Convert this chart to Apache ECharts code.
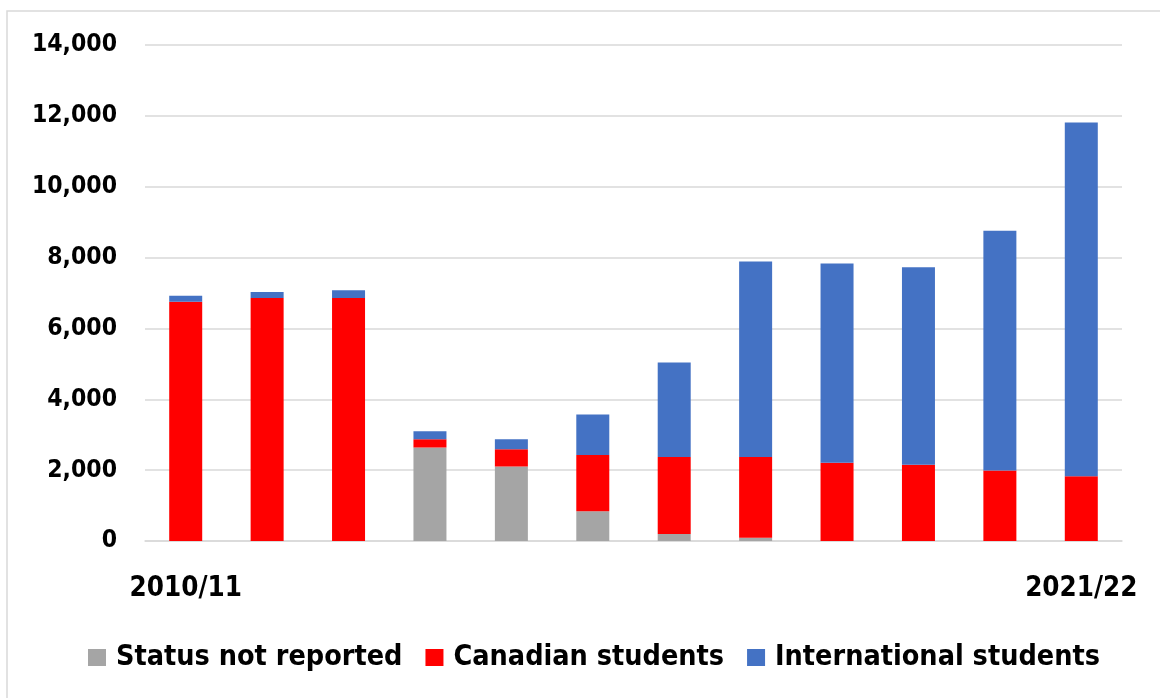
<!DOCTYPE html>
<html>
<head>
<meta charset="utf-8">
<script src="https://cdn.jsdelivr.net/npm/echarts@6/dist/echarts.min.js"></script>
<style>
html,body{margin:0;padding:0;background:#fff;}
#chart{width:1160px;height:698px;}
</style>
</head>
<body>
<div id="chart"></div>
<script>
const categories = ['2010/11','2011/12','2012/13','2013/14','2014/15','2015/16','2016/17','2017/18','2018/19','2019/20','2020/21','2021/22'];
const statusNotReported = [0, 0, 0, 2640, 2100, 840, 200, 90, 0, 0, 0, 0];
const canadianStudents = [6750, 6860, 6860, 230, 490, 1590, 2170, 2280, 2210, 2150, 1990, 1830];
const internationalStudents = [170, 170, 220, 230, 280, 1140, 2670, 5520, 5620, 5580, 6770, 9980];
const yTicks = {min: 0, max: 14000, interval: 2000};

const FONT = '"DejaVu Sans Condensed", "DejaVu Sans", sans-serif';
const chart = echarts.init(document.getElementById('chart'), null, {renderer: 'canvas'});
const barW = 33;
chart.setOption({
  animation: false,
  backgroundColor: '#ffffff',
  graphic: [{
    type: 'rect',
    shape: {x: 7, y: 11, width: 1200, height: 720},
    style: {fill: 'none', stroke: '#d9d9d9', lineWidth: 1.5},
    silent: true
  }],
  grid: {left: 145, right: 38, top: 45, bottom: 157, containLabel: false},
  legend: {
    top: 638,
    left: 83,
    itemWidth: 18,
    itemHeight: 17,
    itemGap: 23,
    icon: 'rect',
    textStyle: {fontFamily: FONT, fontWeight: 'bold', fontSize: 28.5, color: '#000', padding: [0, 0, 0, 5]},
    data: ['Status not reported', 'Canadian students', 'International students']
  },
  xAxis: {
    type: 'category',
    data: categories,
    axisTick: {show: false},
    axisLine: {lineStyle: {color: '#d9d9d9', width: 1.5}},
    axisLabel: {
      interval: 0,
      margin: 34,
      fontFamily: FONT, fontWeight: 'bold', fontSize: 27.5, color: '#000',
      formatter: function (v, i) { return (i === 0 || i === categories.length - 1) ? v : ''; }
    }
  },
  yAxis: {
    type: 'value',
    min: yTicks.min, max: yTicks.max, interval: yTicks.interval,
    axisLine: {show: false},
    axisTick: {show: false},
    splitLine: {lineStyle: {color: '#d9d9d9', width: 1.5}},
    axisLabel: {
      margin: 28,
      fontFamily: FONT, fontWeight: 'bold', fontSize: 24.5, color: '#000',
      formatter: function (v) { return v.toLocaleString('en-US'); }
    }
  },
  series: [
    {name: 'Status not reported', type: 'bar', stack: 'total', barWidth: barW, itemStyle: {color: '#a5a5a5'}, data: statusNotReported},
    {name: 'Canadian students', type: 'bar', stack: 'total', barWidth: barW, itemStyle: {color: '#ff0000'}, data: canadianStudents},
    {name: 'International students', type: 'bar', stack: 'total', barWidth: barW, itemStyle: {color: '#4472c4'}, data: internationalStudents}
  ]
});
</script>
</body>
</html>
